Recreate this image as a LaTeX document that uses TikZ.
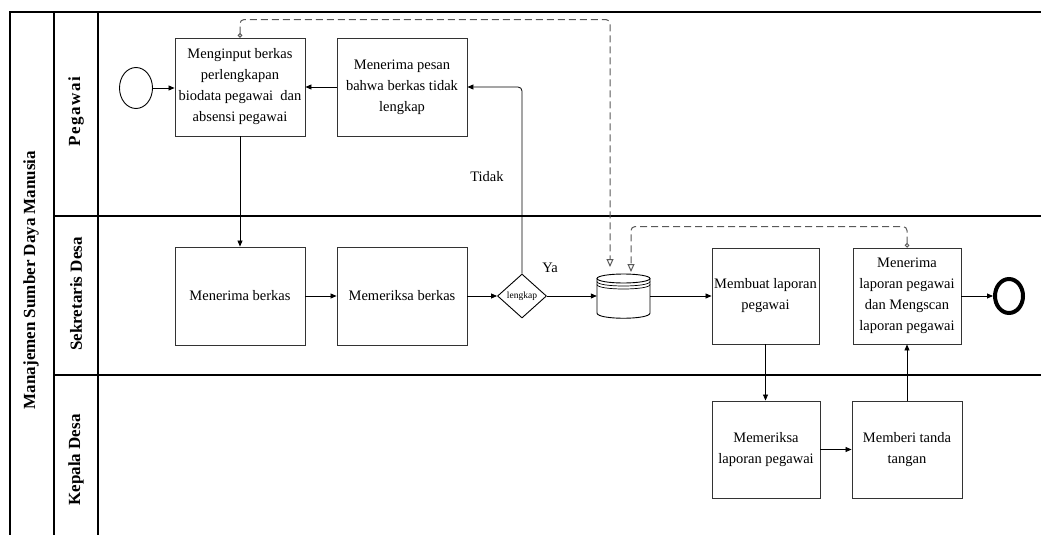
\documentclass[tikz,border=0pt]{standalone}
\usepackage{fontspec}
\setmainfont{Liberation Serif}
\usetikzlibrary{arrows.meta,shapes.geometric}
\begin{document}
\begin{tikzpicture}[x=1pt,y=-1pt,
  box/.style={draw=black!80,line width=0.9pt,align=center,font=\fontsize{14.5}{21}\selectfont,inner sep=1pt,minimum height=97pt},
  flow/.style={line width=0.8pt,-{Triangle[length=6pt,width=5pt]}},
  msg/.style={line width=1pt,draw=black!65,dash pattern=on 7pt off 4pt,{Circle[open,length=4.5pt,width=4.5pt]}-{Triangle[open,length=8pt,width=7pt]},rounded corners=4pt},
  lane/.style={line width=1.2pt},
  lanelabel/.style={rotate=90,font=\fontsize{17}{20}\selectfont\bfseries},
  lbl/.style={font=\fontsize{14.5}{17}\selectfont}]
\useasboundingbox (0,0) rectangle (1041,535);
% pool and lanes
\draw[lane] (10,535) -- (10,12) -- (1041,12);
\draw[lane] (54,12) -- (54,535);
\draw[lane] (98,12) -- (98,535);
\draw[lane] (54,216) -- (1041,216);
\draw[lane] (54,375) -- (1041,375);
\node[lanelabel] (pool) at (31,280) {Manajemen Sumber Daya Manusia};
\node[lanelabel] (l1) at (76,112) {\addfontfeature{LetterSpace=9}Pegawai};
\node[lanelabel] (l2) at (76,294) {Sekretaris Desa};
\node[lanelabel] (l3) at (76,460) {Kepala Desa};
% nodes
\node[draw,ellipse,line width=0.9pt,minimum width=33pt,minimum height=41pt,inner sep=0] (start) at (136,88) {};
\node[box,minimum width=130pt,minimum height=98pt] (inp) at (240,87) {Menginput berkas\\perlengkapan\\biodata pegawai \ dan\\absensi pegawai};
\node[box,minimum width=130pt,minimum height=98pt] (pesan) at (402,87) {Menerima pesan\\bahwa berkas tidak\\lengkap};
\node[box,minimum width=130pt,minimum height=98pt] (terima) at (240,296) {Menerima berkas};
\node[box,minimum width=130pt,minimum height=98pt] (periksa) at (402,296) {Memeriksa berkas};
\node[draw,diamond,line width=0.9pt,minimum width=49pt,minimum height=44pt,inner sep=0,font=\fontsize{9.5}{11}\selectfont] (dec) at (522,296) {lengkap};
\node[minimum width=53pt,minimum height=44pt,inner sep=0] (ds) at (623.5,296) {};
\draw[line width=0.9pt] (623.5,278.5) ellipse [x radius=26.5,y radius=4.5];
\draw[line width=0.7pt] (597,281.5) .. controls (597,287.5) and (650,287.5) .. (650,281.5);
\draw[line width=0.7pt] (597,284.5) .. controls (597,290.5) and (650,290.5) .. (650,284.5);
\draw[line width=0.9pt] (597,278.5) -- (597,313) .. controls (597,320) and (650,320) .. (650,313) -- (650,278.5);
\node[box,minimum width=107pt,minimum height=96pt] (buat) at (765.5,296) {Membuat laporan\\pegawai};
\node[box,minimum width=108pt,minimum height=96pt] (scan) at (907,296) {Menerima\\laporan pegawai\\dan Mengscan\\laporan pegawai};
\node[draw,ellipse,line width=4pt,minimum width=28pt,minimum height=34pt,inner sep=0] (end) at (1009,296) {};
\node[box,minimum width=108pt,minimum height=97pt] (periksaLap) at (766,449.5) {Memeriksa\\laporan pegawai};
\node[box,minimum width=110pt,minimum height=97pt] (tanda) at (907,449.5) {Memberi tanda\\tangan};
\node[lbl] (tidak) at (487,177) {Tidak};
\node[lbl] (ya) at (550,268) {Ya};
% connectors
\draw[flow] (start.east) -- (start.east -| inp.west);
\draw[flow] (pesan.west) -- (inp.east);
\draw[flow] (inp.south) -- (terima.north);
\draw[flow] (terima) -- (periksa);
\draw[flow] (periksa) -- (dec);
\draw[flow,rounded corners=4pt] (dec.north) |- (pesan.east);
\draw[flow] (dec) -- (ds);
\draw[flow] (ds) -- (buat);
\draw[flow] (buat.south) -- (buat.south |- periksaLap.north);
\draw[flow] (periksaLap) -- (tanda);
\draw[flow] (tanda.north) -- (scan.south);
\draw[flow] (scan) -- (end);
\coordinate (dsA) at (610,267);
\coordinate (dsB) at (631,272);
\draw[msg] (inp.north) -- ++(0,-18) -| (dsA);
\draw[msg] (scan.north) -- ++(0,-21) -| (dsB);
\end{tikzpicture}
\end{document}
